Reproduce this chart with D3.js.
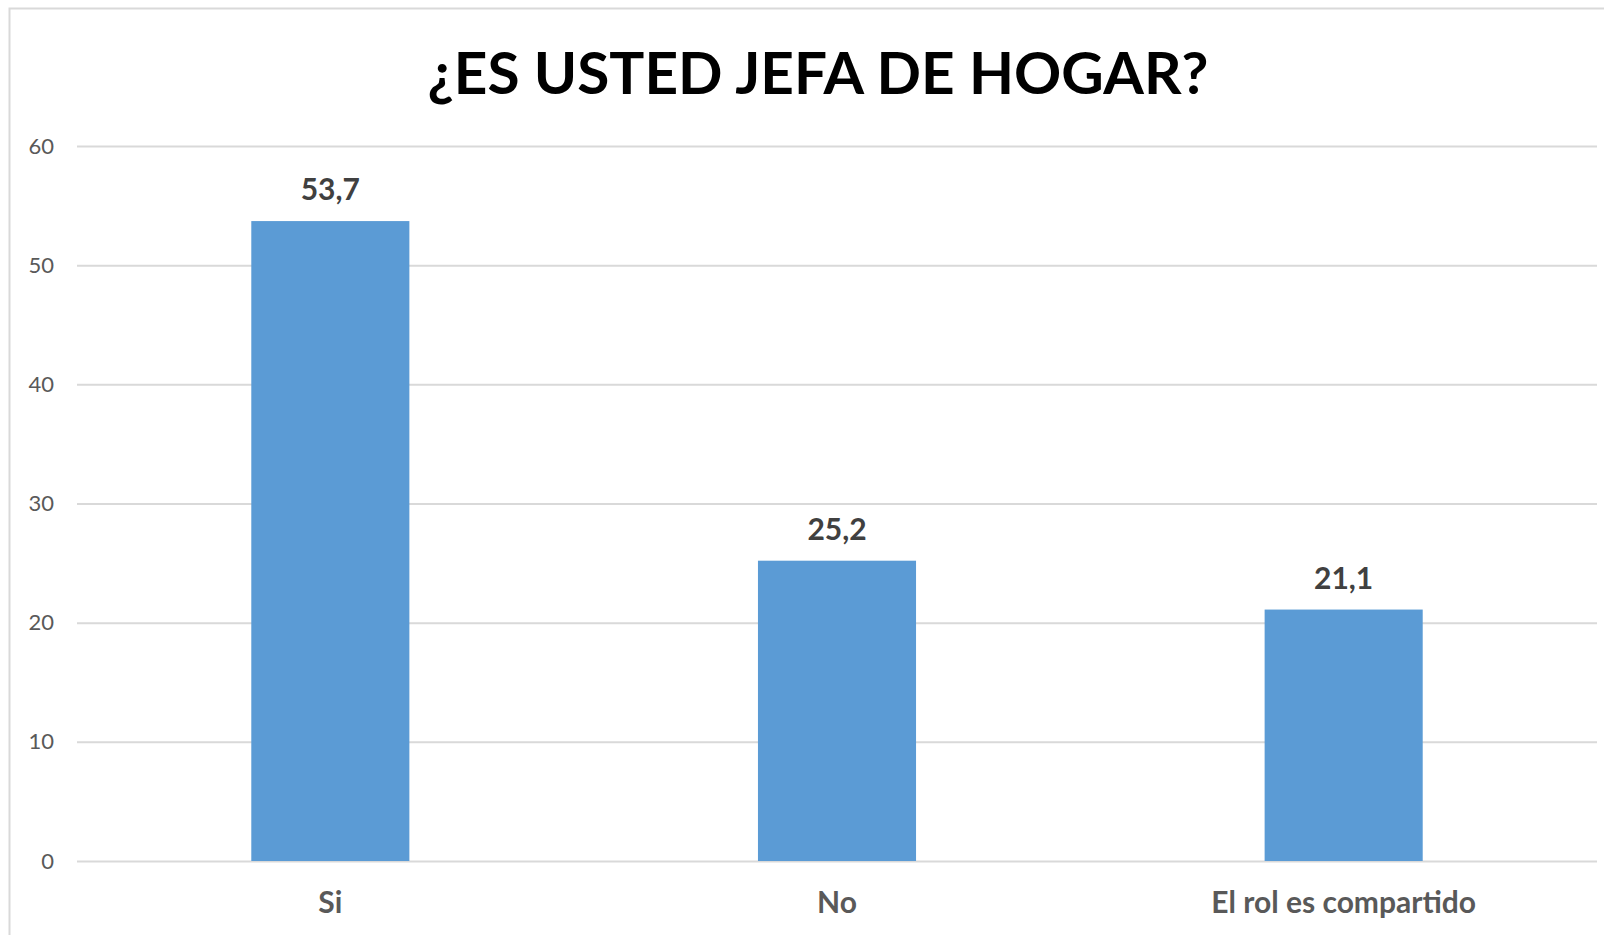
<!DOCTYPE html>
<html>
<head>
<meta charset="utf-8">
<script src="https://cdn.jsdelivr.net/npm/d3@7/dist/d3.min.js"></script>
<style>
  html, body { margin: 0; padding: 0; background: #fff; }
  svg { display: block; font-family: Lato, "Open Sans", sans-serif; }
</style>
</head>
<body>
<div id="chart"></div>
<script>
const chartTitle = "¿ES USTED JEFA DE HOGAR?";
const categories = ["Si", "No", "El rol es compartido"];
const values = [53.7, 25.2, 21.1];
const valueLabels = ["53,7", "25,2", "21,1"];
const yTicks = [0, 10, 20, 30, 40, 50, 60];

const width = 1604;
const height = 935;
const margin = { top: 146, right: 7, bottom: 74, left: 77 };
const barColor = "#5B9BD5";
const gridColor = "#D9D9D9";

const svg = d3.select("#chart")
    .append("svg")
    .attr("width", width)
    .attr("height", height);

// chart area border (top + left visible)
svg.append("path")
    .attr("d", "M9.5," + (height + 2) + "V8.5H" + (width + 2))
    .attr("fill", "none")
    .attr("stroke", gridColor)
    .attr("stroke-width", 2);

const x = d3.scaleBand()
    .domain(categories)
    .range([margin.left, width - margin.right])
    .padding(0);

const y = d3.scaleLinear()
    .domain([0, 60])
    .range([height - margin.bottom, margin.top]);

const barWidth = x.bandwidth() * 0.312;

// gridlines + y labels
const yAxis = svg.append("g")
    .attr("transform", "translate(" + margin.left + ",0)")
    .call(d3.axisLeft(y)
        .tickValues(yTicks)
        .tickSize(-(width - margin.left - margin.right))
        .tickPadding(23)
        .tickFormat(d3.format("d")))
    .attr("font-family", null)
    .attr("font-size", null);

yAxis.select(".domain").remove();
yAxis.selectAll(".tick line")
    .attr("stroke", gridColor)
    .attr("stroke-width", 2);
yAxis.selectAll(".tick text")
    .attr("fill", "#595959")
    .style("font-size", "22px");

// bars
svg.selectAll("rect.bar")
    .data(values)
    .enter()
    .append("rect")
    .attr("class", "bar")
    .attr("x", (d, i) => x(categories[i]) + (x.bandwidth() - barWidth) / 2)
    .attr("y", (d) => y(d))
    .attr("width", barWidth)
    .attr("height", (d) => y(0) - y(d))
    .attr("fill", barColor);

// value labels
svg.selectAll("text.value")
    .data(values)
    .enter()
    .append("text")
    .attr("class", "value")
    .attr("x", (d, i) => x(categories[i]) + x.bandwidth() / 2)
    .attr("y", (d) => y(d) - 21)
    .attr("text-anchor", "middle")
    .attr("fill", "#404040")
    .style("font-size", "30px")
    .style("font-weight", "bold")
    .text((d, i) => valueLabels[i]);

// category labels
svg.selectAll("text.category")
    .data(categories)
    .enter()
    .append("text")
    .attr("class", "category")
    .attr("x", (d) => x(d) + x.bandwidth() / 2)
    .attr("y", 913)
    .attr("text-anchor", "middle")
    .attr("fill", "#595959")
    .style("font-size", "30px")
    .style("font-weight", "bold")
    .text((d) => d);

// title
svg.append("text")
    .attr("x", 818)
    .attr("y", 94)
    .attr("text-anchor", "middle")
    .attr("fill", "#000")
    .style("font-size", "58px")
    .style("font-weight", "bold")
    .attr("textLength", 781)
    .attr("lengthAdjust", "spacingAndGlyphs")
    .text(chartTitle);
</script>
</body>
</html>
